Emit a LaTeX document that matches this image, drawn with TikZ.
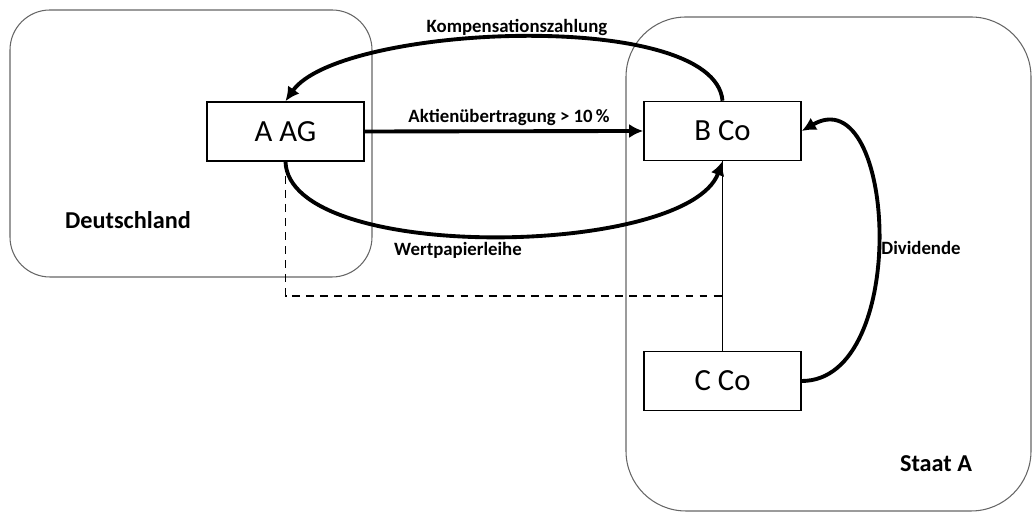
\documentclass[tikz,border=0pt]{standalone}
\usepackage{fontspec}
\setmainfont{Carlito}
\usetikzlibrary{arrows.meta}

\begin{document}
\begin{tikzpicture}[
  region/.style={draw=black!60, line width=0.6pt},
  firm/.style={draw, line width=0.9pt, minimum width=3.14cm, minimum height=1.18cm, font=\fontsize{17.5}{20}\selectfont},
  flow/.style={line width=2.2pt, -{Latex[length=8pt,width=8pt]}},
  tag/.style={font=\fontsize{10.7}{13}\selectfont\bfseries},
  land/.style={font=\fontsize{13.8}{16}\selectfont\bfseries}]
\path [use as bounding box] (0,0) rectangle (20.66,10.26);
% Staaten
\path [region, rounded corners=0.8cm] (0.2,4.72) rectangle (7.44,10.06);
\path [region, rounded corners=1.2cm] (12.52,0.04) rectangle (20.62,9.92);
\node [land] (de) at (2.56,5.86) {Deutschland};
\node [land] (sa) at (18.72,0.98) {Staat A};
% Gesellschaften
\node [firm] (aag) at (5.71,7.63) {A AG};
\node [firm] (bco) at (14.45,7.64) {B Co};
\node [firm] (cco) at (14.45,2.64) {C Co};
% Beteiligungen
\coordinate (knick) at (14.45,4.34);
\draw [line width=0.7pt] (cco.north) -- (bco.south);
\draw [line width=0.7pt, dash pattern=on 4.5pt off 3.5pt] (aag.south) |- (knick);
% Zahlungen
\draw [flow] (aag.east) -- (bco.west);
\draw [flow] (bco.north) to[out=95,in=55,looseness=0.55] (aag.north);
\draw [flow] (aag.south) to[out=-88,in=-110,looseness=0.6] (bco.south);
\draw [flow] (cco.east) to[out=0,in=30,looseness=1.12] (bco.east);
\node [tag] (kz) at (10.34,9.72) {Kompensationszahlung};
\node [tag] (au) at (10.18,7.92) {Aktienübertragung > 10\,\%};
\node [tag] (wl) at (9.16,5.26) {Wertpapierleihe};
\node [tag] (dv) at (18.42,5.30) {Dividende};
\end{tikzpicture}
\end{document}
